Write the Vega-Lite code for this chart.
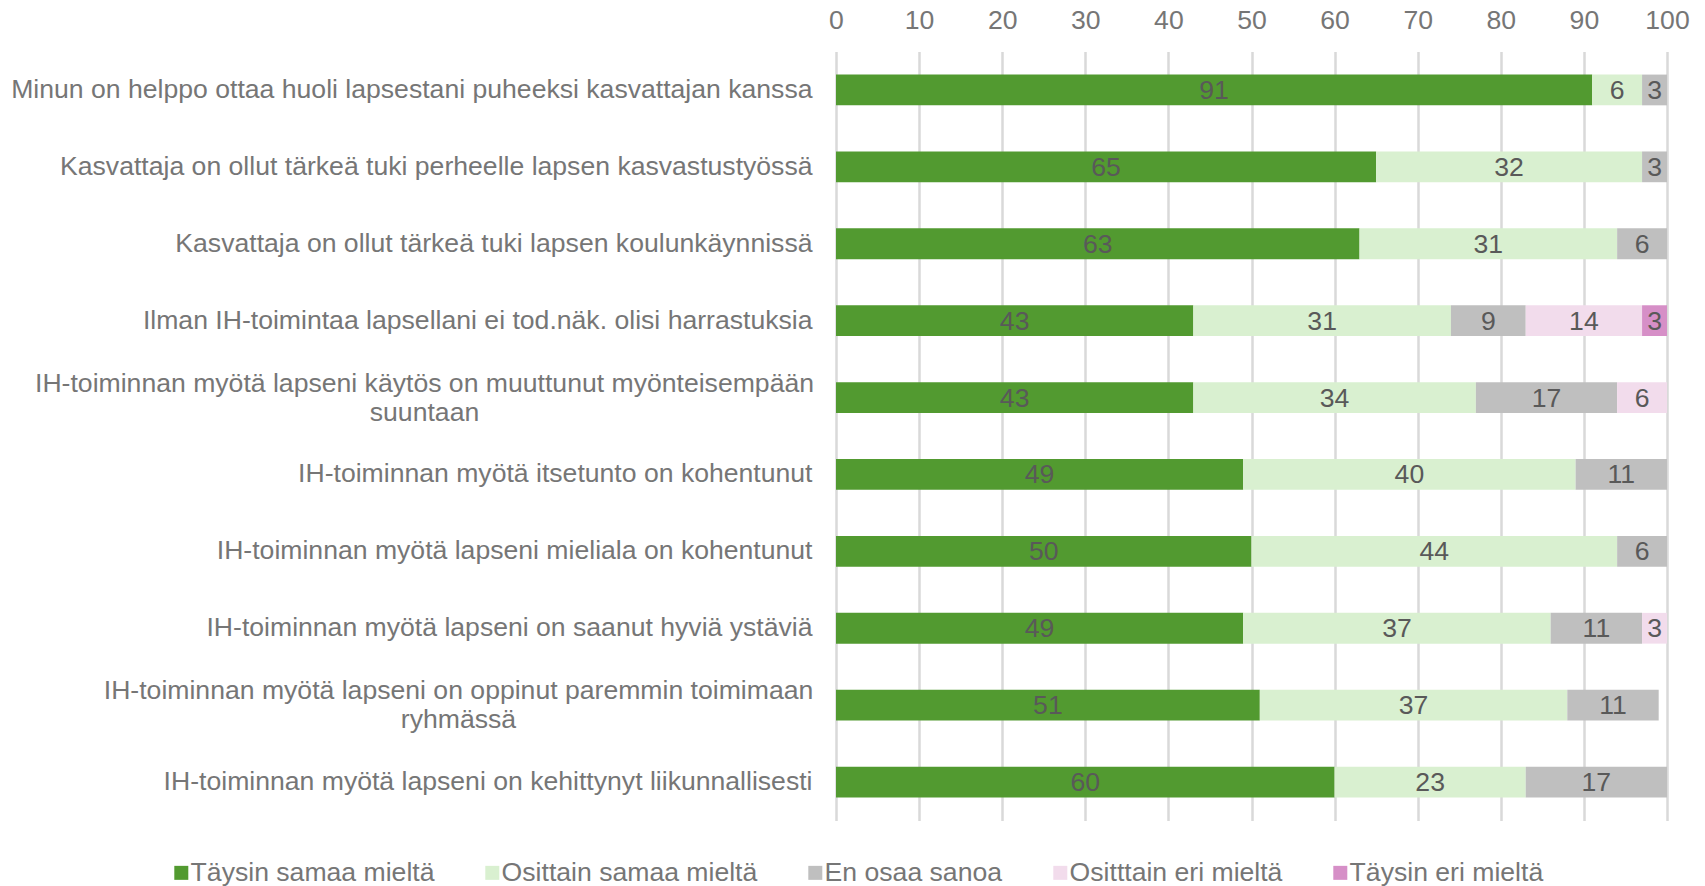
{
  "$schema": "https://vega.github.io/schema/vega-lite/v6.json",
  "width": 831,
  "height": 769,
  "autosize": {"type": "none"},
  "padding": {"left": 836, "top": 51.5, "right": 38, "bottom": 65.5},
  "background": "white",
  "config": {
    "view": {"stroke": null},
    "font": "Liberation Sans"
  },
  "data": {
    "values": [
      {"q": "Minun on helppo ottaa huoli lapsestani puheeksi kasvattajan kanssa", "c": "Täysin samaa mieltä", "k": 1, "v": 91},
      {"q": "Minun on helppo ottaa huoli lapsestani puheeksi kasvattajan kanssa", "c": "Osittain samaa mieltä", "k": 2, "v": 6},
      {"q": "Minun on helppo ottaa huoli lapsestani puheeksi kasvattajan kanssa", "c": "En osaa sanoa", "k": 3, "v": 3},
      {"q": "Kasvattaja on ollut tärkeä tuki perheelle lapsen kasvastustyössä", "c": "Täysin samaa mieltä", "k": 1, "v": 65},
      {"q": "Kasvattaja on ollut tärkeä tuki perheelle lapsen kasvastustyössä", "c": "Osittain samaa mieltä", "k": 2, "v": 32},
      {"q": "Kasvattaja on ollut tärkeä tuki perheelle lapsen kasvastustyössä", "c": "En osaa sanoa", "k": 3, "v": 3},
      {"q": "Kasvattaja on ollut tärkeä tuki lapsen koulunkäynnissä", "c": "Täysin samaa mieltä", "k": 1, "v": 63},
      {"q": "Kasvattaja on ollut tärkeä tuki lapsen koulunkäynnissä", "c": "Osittain samaa mieltä", "k": 2, "v": 31},
      {"q": "Kasvattaja on ollut tärkeä tuki lapsen koulunkäynnissä", "c": "En osaa sanoa", "k": 3, "v": 6},
      {"q": "Ilman IH-toimintaa lapsellani ei tod.näk. olisi harrastuksia", "c": "Täysin samaa mieltä", "k": 1, "v": 43},
      {"q": "Ilman IH-toimintaa lapsellani ei tod.näk. olisi harrastuksia", "c": "Osittain samaa mieltä", "k": 2, "v": 31},
      {"q": "Ilman IH-toimintaa lapsellani ei tod.näk. olisi harrastuksia", "c": "En osaa sanoa", "k": 3, "v": 9},
      {"q": "Ilman IH-toimintaa lapsellani ei tod.näk. olisi harrastuksia", "c": "Ositttain eri mieltä", "k": 4, "v": 14},
      {"q": "Ilman IH-toimintaa lapsellani ei tod.näk. olisi harrastuksia", "c": "Täysin eri mieltä", "k": 5, "v": 3},
      {"q": "IH-toiminnan myötä lapseni käytös on muuttunut myönteisempään suuntaan", "c": "Täysin samaa mieltä", "k": 1, "v": 43},
      {"q": "IH-toiminnan myötä lapseni käytös on muuttunut myönteisempään suuntaan", "c": "Osittain samaa mieltä", "k": 2, "v": 34},
      {"q": "IH-toiminnan myötä lapseni käytös on muuttunut myönteisempään suuntaan", "c": "En osaa sanoa", "k": 3, "v": 17},
      {"q": "IH-toiminnan myötä lapseni käytös on muuttunut myönteisempään suuntaan", "c": "Ositttain eri mieltä", "k": 4, "v": 6},
      {"q": "IH-toiminnan myötä itsetunto on kohentunut", "c": "Täysin samaa mieltä", "k": 1, "v": 49},
      {"q": "IH-toiminnan myötä itsetunto on kohentunut", "c": "Osittain samaa mieltä", "k": 2, "v": 40},
      {"q": "IH-toiminnan myötä itsetunto on kohentunut", "c": "En osaa sanoa", "k": 3, "v": 11},
      {"q": "IH-toiminnan myötä lapseni mieliala on kohentunut", "c": "Täysin samaa mieltä", "k": 1, "v": 50},
      {"q": "IH-toiminnan myötä lapseni mieliala on kohentunut", "c": "Osittain samaa mieltä", "k": 2, "v": 44},
      {"q": "IH-toiminnan myötä lapseni mieliala on kohentunut", "c": "En osaa sanoa", "k": 3, "v": 6},
      {"q": "IH-toiminnan myötä lapseni on saanut hyviä ystäviä", "c": "Täysin samaa mieltä", "k": 1, "v": 49},
      {"q": "IH-toiminnan myötä lapseni on saanut hyviä ystäviä", "c": "Osittain samaa mieltä", "k": 2, "v": 37},
      {"q": "IH-toiminnan myötä lapseni on saanut hyviä ystäviä", "c": "En osaa sanoa", "k": 3, "v": 11},
      {"q": "IH-toiminnan myötä lapseni on saanut hyviä ystäviä", "c": "Ositttain eri mieltä", "k": 4, "v": 3},
      {"q": "IH-toiminnan myötä lapseni on oppinut paremmin toimimaan ryhmässä", "c": "Täysin samaa mieltä", "k": 1, "v": 51},
      {"q": "IH-toiminnan myötä lapseni on oppinut paremmin toimimaan ryhmässä", "c": "Osittain samaa mieltä", "k": 2, "v": 37},
      {"q": "IH-toiminnan myötä lapseni on oppinut paremmin toimimaan ryhmässä", "c": "En osaa sanoa", "k": 3, "v": 11},
      {"q": "IH-toiminnan myötä lapseni on kehittynyt liikunnallisesti", "c": "Täysin samaa mieltä", "k": 1, "v": 60},
      {"q": "IH-toiminnan myötä lapseni on kehittynyt liikunnallisesti", "c": "Osittain samaa mieltä", "k": 2, "v": 23},
      {"q": "IH-toiminnan myötä lapseni on kehittynyt liikunnallisesti", "c": "En osaa sanoa", "k": 3, "v": 17}
    ]
  },
  "encoding": {
    "y": {
      "field": "q",
      "type": "nominal",
      "sort": null,
      "scale": {"paddingInner": 0.6, "paddingOuter": 0.3},
      "axis": {
        "title": null,
        "domain": false,
        "ticks": false,
        "tickSize": 0,
        "grid": false,
        "labelFont": "Liberation Sans",
        "labelFontSize": 26.6,
        "labelColor": "#767676",
        "labelLimit": 0,
        "labelLineHeight": 29,
        "labelBaseline": "middle",
        "labelExpr": "indexof(datum.value, 'suuntaan') >= 0 || indexof(datum.value, 'ryhmässä') >= 0 ? [substring(datum.value, 0, lastindexof(datum.value, ' ')), substring(datum.value, lastindexof(datum.value, ' ') + 1)] : datum.value",
        "labelAlign": {
          "condition": {"test": "indexof(datum.value, 'suuntaan') >= 0 || indexof(datum.value, 'ryhmässä') >= 0", "value": "center"},
          "value": "right"
        },
        "labelOffset": {
          "condition": {"test": "indexof(datum.value, 'suuntaan') >= 0 || indexof(datum.value, 'ryhmässä') >= 0", "value": -14},
          "value": 0
        },
        "labelPadding": {
          "condition": [
            {"test": "indexof(datum.value, 'suuntaan') >= 0", "value": 412},
            {"test": "indexof(datum.value, 'ryhmässä') >= 0", "value": 378}
          ],
          "value": 24
        }
      }
    },
    "x": {
      "field": "v",
      "type": "quantitative",
      "stack": "zero",
      "scale": {"domain": [0, 100], "nice": false},
      "axis": {
        "orient": "top",
        "title": null,
        "domain": false,
        "ticks": false,
        "tickSize": 0,
        "values": [0, 10, 20, 30, 40, 50, 60, 70, 80, 90, 100],
        "grid": true,
        "gridColor": "#d9d9d9",
        "gridWidth": 2.5,
        "labelFont": "Liberation Sans",
        "labelFontSize": 26.6,
        "labelColor": "#767676",
        "labelPadding": 17,
        "labelFlush": false
      }
    },
    "order": {"field": "k", "type": "quantitative"}
  },
  "layer": [
    {
      "mark": {"type": "bar"},
      "encoding": {
        "color": {
          "field": "c",
          "type": "nominal",
          "scale": {
            "domain": ["Täysin samaa mieltä", "Osittain samaa mieltä", "En osaa sanoa", "Ositttain eri mieltä", "Täysin eri mieltä"],
            "range": ["#529a30", "#d9f0d0", "#bfbfbf", "#f2dcec", "#d68fc7"]
          },
          "legend": {
            "title": null,
            "orient": "none",
            "legendX": -668,
            "legendY": 808,
            "direction": "horizontal",
            "columns": 5,
            "columnPadding": 44,
            "padding": 0,
            "symbolType": "square",
            "symbolSize": 196,
            "symbolStrokeWidth": 0,
            "labelOffset": -4,
            "labelFont": "Liberation Sans",
            "labelFontSize": 26.6,
            "labelColor": "#767676",
            "labelLimit": 0
          }
        }
      }
    },
    {
      "mark": {"type": "text", "font": "Liberation Sans", "fontSize": 26.6, "color": "#595959", "baseline": "middle", "align": "center", "dy": 1},
      "encoding": {
        "x": {"field": "v", "type": "quantitative", "stack": "zero", "bandPosition": 0.5},
        "detail": {"field": "c"},
        "text": {"field": "v", "type": "quantitative"}
      }
    }
  ]
}
